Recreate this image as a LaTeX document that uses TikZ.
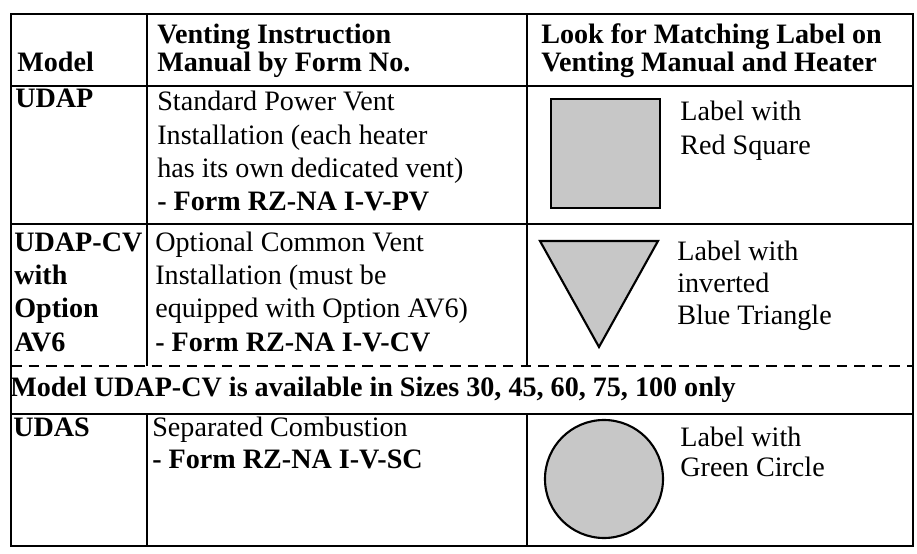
\documentclass[tikz,border=0pt]{standalone}
\usepackage{fontspec}
\setmainfont{Liberation Serif}

\tikzset{
  rule/.style={line width=1.2pt},
  cell/.style={anchor=base west, inner sep=0pt, align=left, font=\fontsize{16}{18.5}\selectfont},
  head/.style={cell, font=\fontsize{16}{16.5}\selectfont\bfseries},
  badge/.style={draw, line width=1.2pt, fill=black!22},
}

\begin{document}
\begin{tikzpicture}[x=0.02cm, y=-0.02cm]
        \useasboundingbox (0, 0) rectangle (917, 554);

        % frame and rules (nodes sit on the baseline of their last line)
        \draw[rule] (11, 14) rectangle (913, 546);
        \draw[rule] (11, 86) -- (913, 86);
        \draw[rule] (11, 224) -- (913, 224);
        \draw[rule, dash pattern=on 6pt off 4pt] (11, 366) -- (913, 366);
        \draw[rule] (11, 414) -- (913, 414);
        \draw[rule] (147, 14) -- (147, 366);
        \draw[rule] (527, 14) -- (527, 366);
        \draw[rule] (147, 414) -- (147, 546);
        \draw[rule] (527, 414) -- (527, 546);

        % header
        \node[head] (model) at (17, 72) {Model};
        \node[head] (manual) at (157, 72) {Venting Instruction\\Manual by Form No.};
        \node[head] (look) at (541, 72) {Look for Matching Label on\\Venting Manual and Heater};

        % UDAP
        \node[head] (udap) at (15, 108) {UDAP};
        \node[cell, font=\fontsize{16}{19}\selectfont] (pv) at (157, 211) {Standard Power Vent\\Installation (each heater\\has its own dedicated vent)\\\textbf{- Form RZ-NA I-V-PV}};
        \draw[badge] (551, 99) rectangle (660, 208);
        \node[cell, font=\fontsize{16}{19}\selectfont] (red) at (680, 154) {Label with\\Red Square};

        % UDAP-CV
        \node[head, font=\fontsize{16}{18.8}\selectfont\bfseries] (udapcv) at (14, 351) {UDAP-CV\\with\\Option\\AV6};
        \node[cell, font=\fontsize{16}{18.8}\selectfont] (cv) at (155, 351) {Optional Common Vent\\Installation (must be\\equipped with Option AV6)\\\textbf{- Form RZ-NA I-V-CV}};
        \draw[badge] (540, 241) -- (658, 241) -- (599, 347) -- cycle;
        \node[cell, font=\fontsize{16}{18}\selectfont] (blue) at (677, 324) {Label with\\inverted\\Blue Triangle};

        \node[head] (sizes) at (10, 396) {Model UDAP-CV is available in Sizes 30, 45, 60, 75, 100 only};

        % UDAS
        \node[head] (udas) at (13, 436) {UDAS};
        \node[cell, font=\fontsize{16}{18}\selectfont] (sc) at (152, 468) {Separated Combustion\\\textbf{- Form RZ-NA I-V-SC}};
        \draw[badge] (604, 479) circle (59);
        \node[cell, font=\fontsize{16}{17}\selectfont] (green) at (680, 476) {Label with\\Green Circle};
      \end{tikzpicture}
\end{document}
